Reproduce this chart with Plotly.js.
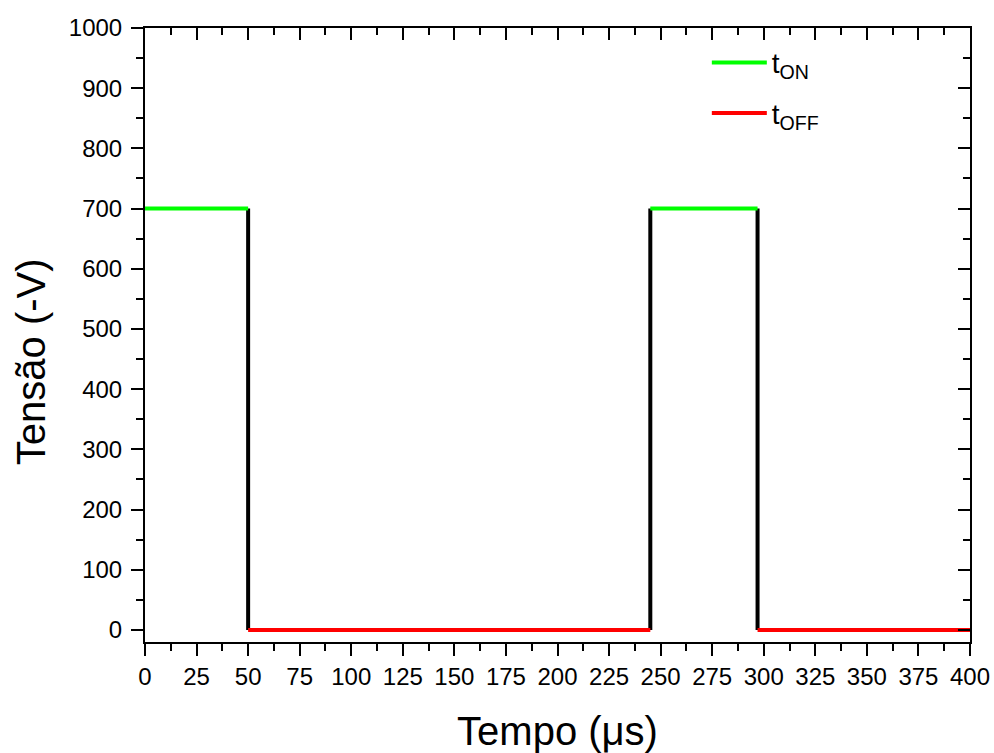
<!DOCTYPE html>
<html>
<head>
<meta charset="utf-8">
<script src="https://cdn.plot.ly/plotly-3.0.1.min.js"></script>
<style>html,body{margin:0;padding:0;background:#fff;}#chart{width:994px;height:753px;}</style>
</head>
<body>
<div id="chart"></div>
<script>
// Data
const tempoOn = [0, 50, null, 245, 297];
const tensaoOn = [700, 700, null, 700, 700];
const tempoOff = [50, 245, null, 297, 400];
const tensaoOff = [0, 0, null, 0, 0];
const tempoTrans = [50, 50, null, 245, 245, null, 297, 297];
const tensaoTrans = [700, 0, null, 0, 700, null, 700, 0];
const xTickVals = [0,25,50,75,100,125,150,175,200,225,250,275,300,325,350,375,400];
const yTickVals = [0,100,200,300,400,500,600,700,800,900,1000];

const font = 'Arial, "Liberation Sans", sans-serif';

const traces = [
  {x: tempoTrans, y: tensaoTrans, mode: 'lines', line: {color: '#000000', width: 4}, showlegend: false, connectgaps: false},
  {x: tempoOn, y: tensaoOn, mode: 'lines', name: 't<sub>ON</sub>', legendgroup: 'on', line: {color: '#00ff00', width: 4}, connectgaps: false},
  {x: tempoOff, y: tensaoOff, mode: 'lines', name: 't<sub>OFF</sub>', legendgroup: 'off', line: {color: '#ff0000', width: 4}, connectgaps: false},
  {x: [null], y: [null], xaxis: 'x2', yaxis: 'y2', showlegend: false, hoverinfo: 'skip'}
];

const axCommon = {
  showgrid: false, zeroline: false, showline: true, linecolor: '#000', linewidth: 2,
  ticklen: 12, tickwidth: 2, tickcolor: '#000',
  tickfont: {family: font, size: 24, color: '#000'}
};
const minorOut = {ticks: 'outside', ticklen: 7, tickwidth: 2, tickcolor: '#000', showgrid: false};
const minorIn = {ticks: 'inside', ticklen: 7, tickwidth: 2, tickcolor: '#000', showgrid: false};

const layout = {
  width: 994, height: 753,
  margin: {l: 145, r: 24, t: 28, b: 111},
  paper_bgcolor: '#fff', plot_bgcolor: '#fff',
  font: {family: font, color: '#000'},
  showlegend: true,
  legend: {x: 0.681, y: 0.984, xanchor: 'left', yanchor: 'top', bgcolor: 'rgba(0,0,0,0)', itemwidth: 55,
           font: {family: font, size: 28, color: '#000'}, traceorder: 'grouped', tracegroupgap: 11},
  xaxis: Object.assign({}, axCommon, {
    range: [0, 400], tickvals: xTickVals, ticktext: xTickVals.map(String), ticks: 'outside',
    minor: Object.assign({dtick: 12.5}, minorOut),
    title: {text: 'Tempo (μs)', font: {family: font, size: 40, color: '#000'}, standoff: 29}
  }),
  yaxis: Object.assign({}, axCommon, {
    range: [-20, 1000], tickvals: yTickVals, ticktext: yTickVals.map(String), ticks: 'outside',
    ticklabelstandoff: 4,
    minor: Object.assign({dtick: 50}, minorOut)
  }),
  xaxis2: Object.assign({}, axCommon, {
    overlaying: 'x', side: 'top', anchor: 'y2', range: [0, 400], tickvals: xTickVals, ticks: 'inside', showticklabels: false,
    minor: Object.assign({dtick: 12.5}, minorIn)
  }),
  yaxis2: Object.assign({}, axCommon, {
    overlaying: 'y', side: 'right', anchor: 'x2', range: [-20, 1000], tickvals: yTickVals, ticks: 'inside', showticklabels: false,
    minor: Object.assign({dtick: 50}, minorIn)
  }),
  annotations: [
    {text: 'Tensão (-V)', xref: 'paper', yref: 'paper', x: -0.138, y: 0.456, xanchor: 'center', yanchor: 'middle',
     textangle: -90, showarrow: false, font: {family: font, size: 40, color: '#000'}},
    {text: 'Pulsos', xref: 'paper', yref: 'paper', x: 0.433, y: 1.034, xanchor: 'center', yanchor: 'bottom',
     showarrow: false, font: {family: font, size: 32, color: '#000'}}
  ]
};

Plotly.newPlot('chart', traces, layout, {displayModeBar: false, staticPlot: true});
</script>
</body>
</html>
